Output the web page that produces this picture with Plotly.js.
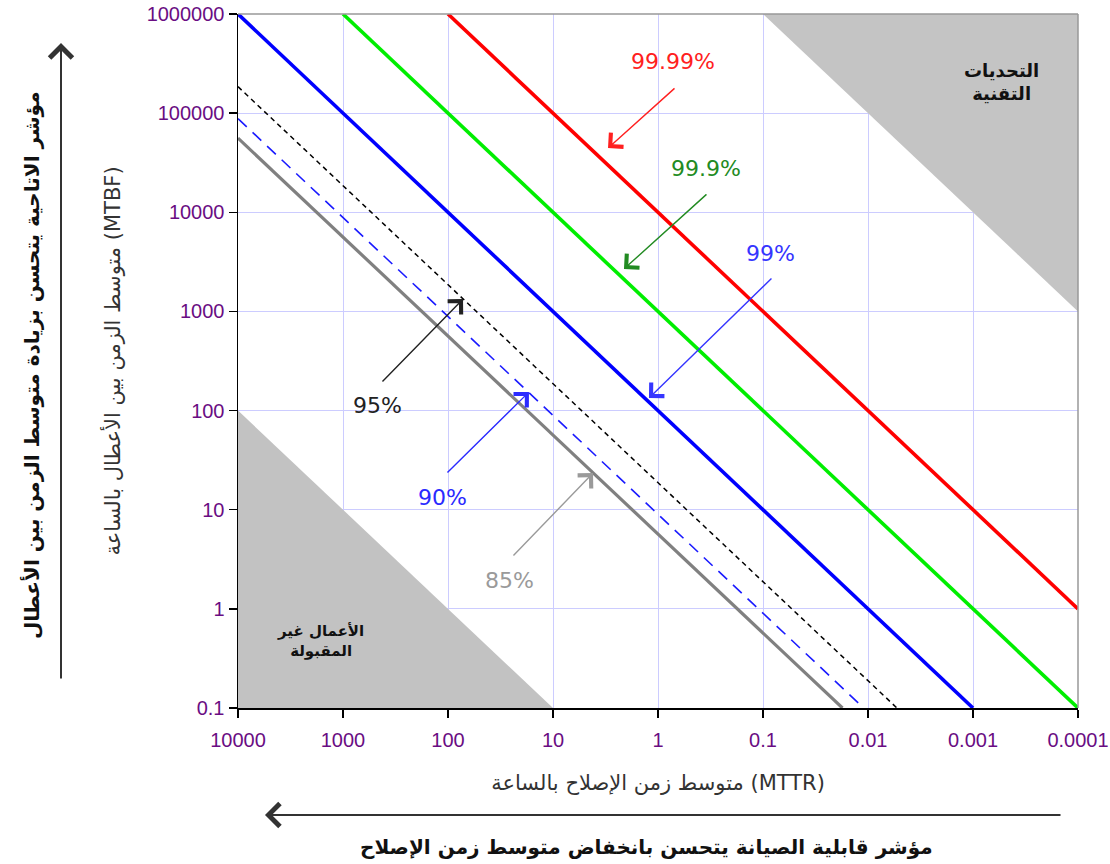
<!DOCTYPE html>
<html>
<head>
<meta charset="utf-8">
<script src="https://cdn.plot.ly/plotly-3.0.1.min.js"></script>
<style>html,body{margin:0;padding:0;background:#fff;}#chart{width:1110px;height:864px;}</style>
</head>
<body>
<div id="chart"></div>
<script>
// Availability lines: MTTR (hours) vs MTBF (hours), endpoints
const mttr9999 = [100, 0.0001];
const mtbf9999 = [1000000, 1];
const mttr999 = [1000, 0.0001];
const mtbf999 = [1000000, 0.1];
const mttr99 = [10000, 0.001];
const mtbf99 = [1000000, 0.1];
const mttr95 = [10000, 0.0053];
const mtbf95 = [185000, 0.1];
const mttr90 = [10000, 0.011];
const mtbf90 = [88000, 0.1];
const mttr85 = [10000, 0.0175];
const mtbf85 = [56000, 0.1];

// Shaded regions
const techX = [0.1, 0.0001, 0.0001];
const techY = [1000000, 1000000, 1000];
const unaccX = [10000, 10000, 10];
const unaccY = [100, 0.1, 0.1];

// Tick labels
const xTickVals = [10000, 1000, 100, 10, 1, 0.1, 0.01, 0.001, 0.0001];
const xTickText = ['10000', '1000', '100', '10', '1', '0.1', '0.01', '0.001', '0.0001'];
const yTickVals = [0.1, 1, 10, 100, 1000, 10000, 100000, 1000000];
const yTickText = ['0.1', '1', '10', '100', '1000', '10000', '100000', '1000000'];

const seriesLabels = ['99.99%', '99.9%', '99%', '95%', '90%', '85%'];

const regionFill = '#c4c4c4';
const traces = [
  {x: techX, y: techY, fill: 'toself', fillcolor: regionFill, line: {width: 0, color: regionFill}, mode: 'lines', hoverinfo: 'skip'},
  {x: unaccX, y: unaccY, fill: 'toself', fillcolor: '#c2c2c2', line: {width: 0, color: '#c2c2c2'}, mode: 'lines', hoverinfo: 'skip'},
  {x: mttr85, y: mtbf85, mode: 'lines', name: seriesLabels[5], line: {color: '#808080', width: 3.2}},
  {x: mttr90, y: mtbf90, mode: 'lines', name: seriesLabels[4], line: {color: '#1a1aff', width: 1.6, dash: '12px,8px'}},
  {x: mttr95, y: mtbf95, mode: 'lines', name: seriesLabels[3], line: {color: '#000000', width: 1.5, dash: '5px,4px'}},
  {x: mttr99, y: mtbf99, mode: 'lines', name: seriesLabels[2], line: {color: '#0000ff', width: 3.6}},
  {x: mttr999, y: mtbf999, mode: 'lines', name: seriesLabels[1], line: {color: '#00ee00', width: 3.6}},
  {x: mttr9999, y: mtbf9999, mode: 'lines', name: seriesLabels[0], line: {color: '#ff0000', width: 3.6}}
];

const pctFont = 'DejaVu Sans, sans-serif';
function label(text, lx, ly, color) {
  return {x: lx, y: ly, xref: 'x', yref: 'y', text: text, showarrow: false,
    font: {family: pctFont, size: 22, color: color}};
}
function arrow(lx, ly, ax, ay, color) {
  return {x: lx, y: ly, xref: 'x', yref: 'y', text: '', showarrow: true, ax: ax, ay: ay,
    arrowhead: 4, arrowsize: 2.6, arrowwidth: 1.4, arrowcolor: color};
}

const arabicFont = 'DejaVu Sans, sans-serif';
const annotations = [
  label(seriesLabels[0], -0.143, 5.516, '#ff2020'),
  arrow(0.476, 4.648, 68, -61, '#ff2020'),
  label(seriesLabels[1], -0.457, 4.437, '#228b22'),
  arrow(0.324, 3.428, 84, -76, '#228b22'),
  label(seriesLabels[2], -1.067, 3.589, '#3535ff'),
  arrow(0.086, 2.127, 124, -121, '#3535ff'),
  label(seriesLabels[3], 2.667, 2.056, '#222222'),
  arrow(1.857, 3.125, -82, 84, '#222222'),
  label(seriesLabels[4], 2.048, 1.128, '#2a2aff'),
  arrow(1.229, 2.187, -83, 82, '#2a2aff'),
  label(seriesLabels[5], 1.410, 0.291, '#9a9a9a'),
  arrow(0.619, 1.37, -81, 84, '#9a9a9a'),
  {x: -3.267, y: 5.314, xref: 'x', yref: 'y', text: '<b>التحديات<br>التقنية</b>', showarrow: false,
   font: {family: arabicFont, size: 18, color: '#111'}},
  {x: 3.219, y: -0.324, xref: 'x', yref: 'y', text: '<b>الأعمال غير<br>المقبولة</b>', showarrow: false,
   font: {family: arabicFont, size: 15, color: '#111'}},
  // outer bold y label + arrow
  {x: (31 - 238) / 840, y: (708 - 365) / 694, xref: 'paper', yref: 'paper', xanchor: 'center', yanchor: 'middle',
   textangle: -90,
   text: '<b>مؤشر الاتاحية يتحسن بزيادة متوسط الزمن بين الأعطال</b>', showarrow: false,
   font: {family: arabicFont, size: 20, color: '#111'}},
  {x: (61 - 238) / 840, y: (708 - 43) / 694, xref: 'paper', yref: 'paper', text: '', showarrow: true,
   ax: 0, ay: 637, arrowhead: 4, arrowsize: 2.2, arrowwidth: 2, arrowcolor: '#333'},
  // bottom bold x label + arrow
  {x: (646 - 238) / 840, y: (708 - 847) / 694, xref: 'paper', yref: 'paper', xanchor: 'center', yanchor: 'middle',
   text: '<b>مؤشر قابلية الصيانة يتحسن بانخفاض متوسط زمن الإصلاح</b>', showarrow: false,
   font: {family: arabicFont, size: 20, color: '#111'}},
  {x: (265 - 238) / 840, y: (708 - 815) / 694, xref: 'paper', yref: 'paper', text: '', showarrow: true,
   ax: 797, ay: 0, arrowhead: 4, arrowsize: 2.2, arrowwidth: 2, arrowcolor: '#333'}
];

const tickFont = {family: 'Liberation Sans, Arial, sans-serif', size: 20, color: '#6a0d83'};
const layout = {
  width: 1110, height: 864,
  margin: {l: 238, r: 32, t: 14, b: 156},
  paper_bgcolor: '#ffffff', plot_bgcolor: '#ffffff',
  showlegend: false,
  xaxis: {
    type: 'log', range: [4, -4], tickmode: 'array', tickvals: xTickVals, ticktext: xTickText,
    ticks: 'outside', ticklen: 8, tickwidth: 1.5, tickcolor: '#000', tickfont: tickFont, ticklabelstandoff: 5,
    showline: true, linecolor: '#000', linewidth: 1.5, gridcolor: '#ccccff', gridwidth: 1, zeroline: false,
    title: {text: 'متوسط زمن الإصلاح بالساعة (MTTR)', font: {family: arabicFont, size: 21, color: '#333'}, standoff: 26}
  },
  yaxis: {
    type: 'log', range: [-1, 6], tickmode: 'array', tickvals: yTickVals, ticktext: yTickText,
    ticks: 'outside', ticklen: 8, tickwidth: 1.5, tickcolor: '#000', tickfont: tickFont,
    showline: true, linecolor: '#000', linewidth: 1.5, gridcolor: '#ccccff', gridwidth: 1, zeroline: false,
    title: {text: 'متوسط الزمن بين الأعطال بالساعة (MTBF)', font: {family: arabicFont, size: 21, color: '#333'}, standoff: 20}
  },
  shapes: [
    {type: 'line', xref: 'paper', yref: 'paper', x0: 0, x1: 1, y0: 1, y1: 1, line: {color: '#999', width: 1.5}},
    {type: 'line', xref: 'paper', yref: 'paper', x0: 1, x1: 1, y0: 0, y1: 1, line: {color: '#999', width: 1.5}}
  ],
  annotations: annotations
};

Plotly.newPlot('chart', traces, layout, {displayModeBar: false, staticPlot: true});
</script>
</body>
</html>
